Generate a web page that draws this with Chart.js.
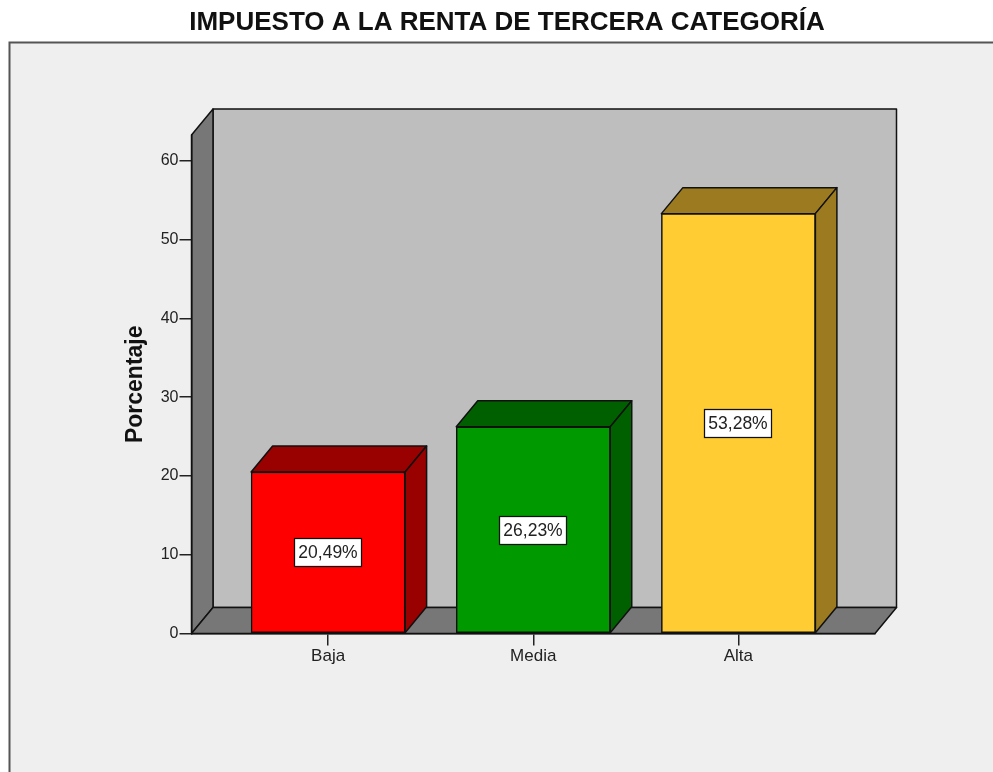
<!DOCTYPE html>
<html>
<head>
<meta charset="utf-8">
<style>html,body{margin:0;padding:0;background:#fff}canvas{display:block}</style>
<script src="https://cdn.jsdelivr.net/npm/chart.js@4/dist/chart.umd.min.js"></script>
</head>
<body>
<canvas id="c" width="993" height="772"></canvas>
<script>
const titleText = "IMPUESTO A LA RENTA DE TERCERA CATEGORÍA";
const yAxisTitle = "Porcentaje";
const categories = ["Baja", "Media", "Alta"];
const percentages = [20.49, 26.23, 53.28];
const valueLabels = ["20,49%", "26,23%", "53,28%"];
const yTicks = [0, 10, 20, 30, 40, 50, 60];
const frontColors = ["#ff0000", "#009900", "#ffcc33"];
const sideColors = ["#990000", "#006000", "#9c7b20"];

const FONT = "'Liberation Sans', Arial, sans-serif";
const DX = 21.5, DY = -26;
const INK = "#111111";

function poly(ctx, pts, fill) {
  ctx.beginPath();
  pts.forEach((p, i) => i ? ctx.lineTo(p[0], p[1]) : ctx.moveTo(p[0], p[1]));
  ctx.closePath();
  ctx.fillStyle = fill;
  ctx.fill();
  ctx.stroke();
}

const scene3d = {
  id: "scene3d",
  beforeDraw(chart) {
    const { ctx, chartArea: a, width, height } = chart;
    ctx.save();
    ctx.fillStyle = "#ffffff";
    ctx.fillRect(0, 0, width, height);
    ctx.fillStyle = "#efefef";
    ctx.fillRect(9, 42, width - 9, height - 42);
    ctx.strokeStyle = "#555555";
    ctx.lineWidth = 2;
    ctx.beginPath();
    ctx.moveTo(9.5, height);
    ctx.lineTo(9.5, 42.5);
    ctx.lineTo(width, 42.5);
    ctx.stroke();

    ctx.strokeStyle = INK;
    ctx.lineWidth = 1.5;
    ctx.lineJoin = "round";
    poly(ctx, [[a.left + DX, a.top + DY], [a.right + DX, a.top + DY], [a.right + DX, a.bottom + DY], [a.left + DX, a.bottom + DY]], "#bebebe");
    poly(ctx, [[a.left, a.top], [a.left + DX, a.top + DY], [a.left + DX, a.bottom + DY], [a.left, a.bottom]], "#777777");
    poly(ctx, [[a.left, a.bottom], [a.left + DX, a.bottom + DY], [a.right + DX, a.bottom + DY], [a.right, a.bottom]], "#777777");
    ctx.restore();
  },
  beforeDatasetsDraw(chart) {
    const { ctx } = chart;
    ctx.save();
    ctx.strokeStyle = INK;
    ctx.lineWidth = 1.5;
    ctx.lineJoin = "round";
    chart.getDatasetMeta(0).data.forEach((bar, i) => {
      const p = bar.getProps(["x", "y", "base", "width"], true);
      const l = p.x - p.width / 2, r = p.x + p.width / 2;
      poly(ctx, [[l, p.y], [l + DX, p.y + DY], [r + DX, p.y + DY], [r, p.y]], sideColors[i]);
      poly(ctx, [[r, p.y], [r + DX, p.y + DY], [r + DX, p.base + DY], [r, p.base]], sideColors[i]);
    });
    ctx.restore();
  },
  afterDatasetsDraw(chart) {
    const { ctx } = chart;
    ctx.save();
    ctx.font = "17.5px " + FONT;
    ctx.textAlign = "center";
    ctx.textBaseline = "middle";
    chart.getDatasetMeta(0).data.forEach((bar, i) => {
      const p = bar.getProps(["x", "y", "base"], true);
      const cy = Math.round((p.y + p.base) / 2) + 0.5;
      const cx = Math.round(p.x);
      ctx.fillStyle = "#ffffff";
      ctx.strokeStyle = INK;
      ctx.lineWidth = 1.25;
      ctx.fillRect(cx - 33.5, cy - 14, 67, 28);
      ctx.strokeRect(cx - 33.5, cy - 14, 67, 28);
      ctx.fillStyle = "#222222";
      ctx.fillText(valueLabels[i], cx, cy + 1);
    });
    ctx.restore();
  }
};

new Chart(document.getElementById("c"), {
  type: "bar",
  data: {
    datasets: [{
      data: percentages.map((v, i) => ({ x: i, y: v })),
      backgroundColor: frontColors,
      borderColor: INK,
      borderWidth: 1.5,
      borderSkipped: false,
      barThickness: 154
    }]
  },
  options: {
    responsive: false,
    animation: false,
    events: [],
    layout: { padding: { left: 139, right: 118, top: 0, bottom: 0 } },
    plugins: {
      legend: { display: false },
      tooltip: { enabled: false },
      title: {
        display: true,
        text: titleText,
        color: "#111111",
        font: { family: FONT, size: 26, weight: "bold" },
        padding: { top: 7.5, bottom: 96.3 }
      }
    },
    scales: {
      x: {
        type: "linear",
        offset: false,
        min: -0.6659,
        max: 2.6659,
        afterFit(s) { s.height = 138.5; },
        afterBuildTicks(s) { s.ticks = categories.map((c, i) => ({ value: i })); },
        grid: { offset: false, drawOnChartArea: false, color: "#222222", lineWidth: 1.5, tickLength: 12 },
        border: { color: INK, width: 1.5 },
        ticks: {
          autoSkip: false,
          maxRotation: 0,
          padding: 1,
          color: "#222222",
          font: { family: FONT, size: 17 },
          callback: (v) => categories[v]
        }
      },
      y: {
        min: 0,
        max: 63.26,
        afterFit(s) { s.width = 52.5; },
        afterBuildTicks(s) { s.ticks = yTicks.map((v) => ({ value: v })); },
        grid: { drawOnChartArea: false, color: "#222222", lineWidth: 1.5, tickLength: 12 },
        border: { color: INK, width: 1.5 },
        ticks: {
          padding: 1,
          color: "#222222",
          font: { family: FONT, size: 16 }
        },
        title: {
          display: true,
          text: yAxisTitle,
          color: "#111111",
          font: { family: FONT, size: 23, weight: "bold" },
          padding: { top: -17, bottom: 0 }
        }
      }
    }
  },
  plugins: [scene3d]
});
</script>
</body>
</html>
